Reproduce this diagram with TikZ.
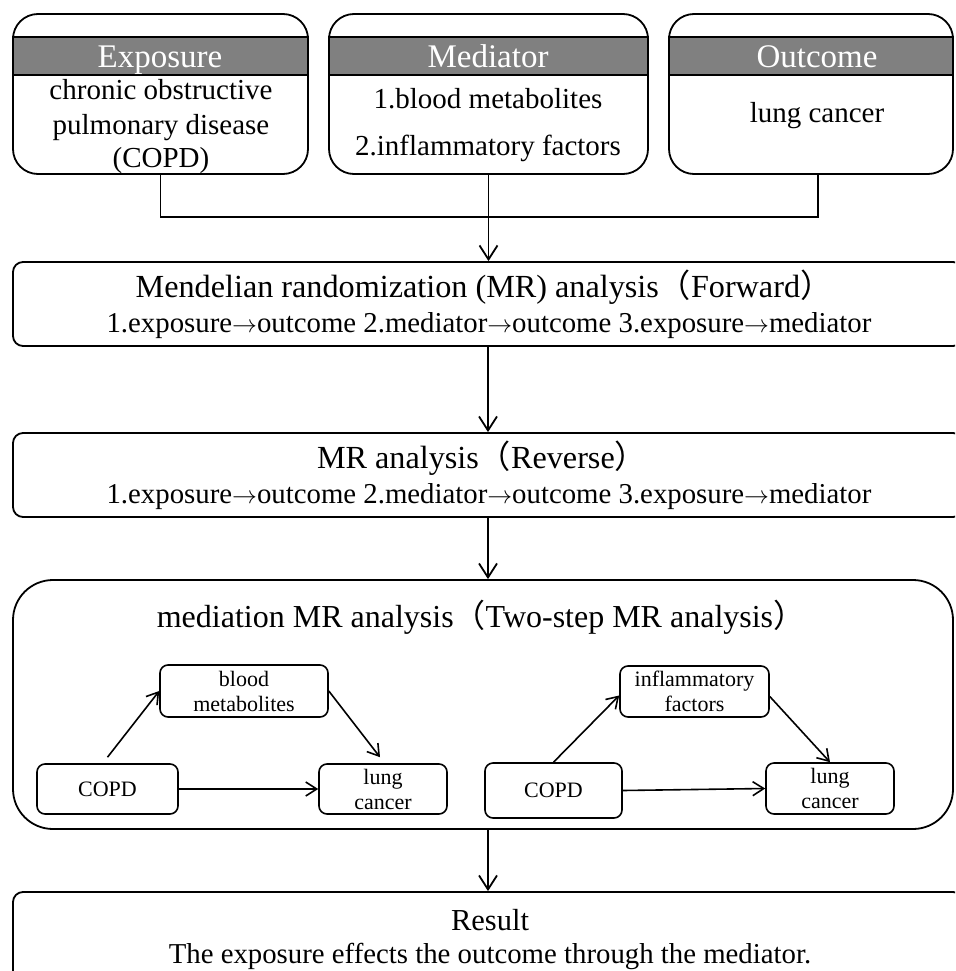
\documentclass[tikz,border=0pt]{standalone}
\usepackage{fontspec}
\setmainfont{Liberation Serif}
\newfontfamily\cjkf{Noto Sans CJK SC}
\usetikzlibrary{arrows.meta}
\newcommand\lpar{{\cjkf （}}
\newcommand\rpar{{\cjkf ）}}
\newcommand\rarr{$\rightarrow$}
\newcommand\fsz[1]{\fontsize{#1}{#1}\selectfont}
\newcommand\smallfont{\fontsize{22}{25}\selectfont}
\definecolor{hdrgray}{RGB}{128,128,128}
\begin{document}
\begin{tikzpicture}[x=1pt,y=-1pt,line width=1.8pt,
  topbox/.style={draw, rounded corners=25pt, minimum height=160pt, inner sep=0pt},
  hdrband/.style={draw, fill=hdrgray, minimum height=38pt, inner sep=0pt},
  hdrtext/.style={anchor=base, text=white, font=\fsz{33}, inner sep=0pt},
  bodytext/.style={anchor=base, font=\fsz{29}, inner sep=0pt},
  bigbox/.style={draw, rounded corners=10pt, inner sep=0pt, minimum width=950pt},
  titletext/.style={anchor=base, font=\fsz{32.2}, inner sep=0pt},
  subtext/.style={anchor=base, font=\fsz{28.8}, inner sep=0pt},
  smallbox/.style={draw, rounded corners=8pt, inner sep=0pt, align=center, font=\smallfont, line width=1.6pt},
  arr/.style={-{Straight Barb[length=14pt,width=18pt]}},
  sarr/.style={line width=1.6pt, -{Straight Barb[length=11pt,width=14pt]}}
]
\clip (0,0) rectangle (955,971);

% ---- top boxes ----
\node[topbox, minimum width=295pt] (expo) at (160.5,94) {};
\node[hdrband, minimum width=295pt] (expoh) at (160.5,56) {};
\node[hdrtext] (expot) at (160,68) {Exposure};
\node[bodytext] (expob1) at (161,100) {chronic obstructive};
\node[bodytext] (expob2) at (161,135) {pulmonary disease};
\node[bodytext] (expob3) at (161,167) {(COPD)};

\node[topbox, minimum width=319pt] (medi) at (488.5,94) {};
\node[hdrband, minimum width=319pt] (medih) at (488.5,56) {};
\node[hdrtext] (medit) at (488,68) {Mediator};
\node[bodytext] (medib1) at (488,109) {1.blood metabolites};
\node[bodytext] (medib2) at (488,155) {2.inflammatory factors};

\node[topbox, minimum width=284pt] (outc) at (811,94) {};
\node[hdrband, minimum width=284pt] (outch) at (811,56) {};
\node[hdrtext] (outct) at (817,68) {Outcome};
\node[bodytext] (outcb1) at (817,123) {lung cancer};

\coordinate (join) at (488.5,217);
\coordinate (outcfoot) at (818,174);

% ---- forward / reverse ----
\node[bigbox, minimum height=84pt] (fwd) at (488,304) {};
\node[titletext] (fwdt) at (484,297) {Mendelian randomization (MR) analysis\lpar Forward\rpar};
\node[subtext] (fwds) at (489,332) {1.exposure\rarr outcome 2.mediator\rarr outcome 3.exposure\rarr mediator};

\node[bigbox, minimum height=84pt] (rev) at (488,475) {};
\node[titletext] (revt) at (482,468) {MR analysis\lpar Reverse\rpar};
\node[subtext] (revs) at (489,503) {1.exposure\rarr outcome 2.mediator\rarr outcome 3.exposure\rarr mediator};

% ---- mediation ----
\node[draw, rounded corners=40pt, inner sep=0pt, minimum width=940pt, minimum height=249pt] (med) at (483,704.5) {};
\node[titletext, font=\fsz{32}] (medt) at (481,627) {mediation MR analysis\lpar Two-step MR analysis\rpar};

\node[smallbox, minimum width=168pt, minimum height=52pt] (bm) at (244,691) {blood\\metabolites};
\node[smallbox, minimum width=141pt, minimum height=50pt] (copda) at (107.5,789) {COPD};
\node[smallbox, minimum width=128pt, minimum height=50pt] (lca) at (383,789) {lung\\cancer};

\node[smallbox, minimum width=149pt, minimum height=51pt] (inf) at (694.5,691.5) {inflammatory\\factors};
\node[smallbox, minimum width=137pt, minimum height=55pt] (copdb) at (553.5,790.5) {COPD};
\node[smallbox, minimum width=128pt, minimum height=51pt] (lcb) at (830,788.5) {lung\\cancer};

% ---- result ----
\node[bigbox, minimum height=98pt] (res) at (488,941) {};
\node[anchor=base, font=\fsz{30.5}, inner sep=0pt] (rest) at (490,930) {Result};
\node[subtext] (ress) at (490,963) {The exposure effects the outcome through the mediator.};

% ---- connectors ----
\draw (expo.south) |- (join);
\draw (outcfoot) |- (join);
\draw[arr] (medi.south) -- (medi.south |- fwd.north);
\draw[arr] (fwd.south) -- (rev.north);
\draw[arr] (rev.south) -- (rev.south |- med.north);
\draw[arr] (rev.south |- med.south) -- (res.north);

\draw[sarr] ([yshift=6pt]copda.north) -- (bm.west);
\draw[sarr] (bm.east) -- ([xshift=-3pt,yshift=6pt]lca.north);
\draw[sarr] (copda.east) -- (lca.west);

\draw[sarr] (copdb.north) -- ([yshift=-4pt]inf.west);
\draw[sarr] ([yshift=-5pt]inf.east) -- (lcb.north);
\draw[sarr] (copdb.east) -- (lcb.west);
\end{tikzpicture}
\end{document}
